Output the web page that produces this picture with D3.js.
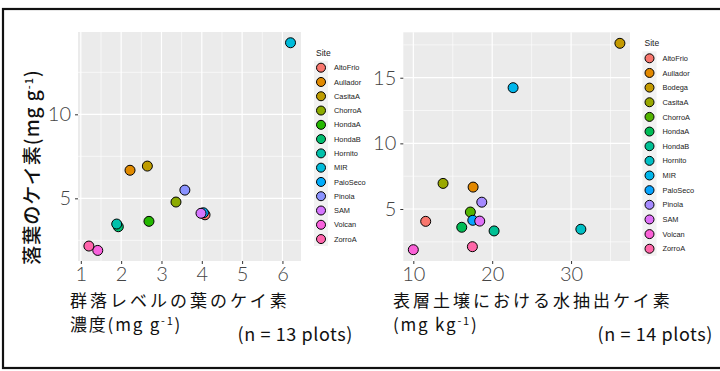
<html>
  <head>
    <meta charset="UTF-8">
    <script src="https://cdn.jsdelivr.net/npm/d3@7"></script>
    <style>
      body { margin: 0; background: #fff; }
      .tick-lab { font-family: Lato, "DejaVu Sans", sans-serif; font-weight: 300; fill: #444; }
      .jp { font-family: "Noto Sans CJK JP", sans-serif; font-weight: 400; fill: #111; }
      .leg { font-family: "Liberation Sans", Arial, sans-serif; fill: #1a1a1a; }
    </style>
  </head>
  <body>
    <svg width="720" height="371"></svg>

    <script type="text/javascript">
      // Left panel: community leaf Si vs litter Si (13 sites)
      var sitesLeft = ["AltoFrio","Aullador","CasitaA","ChorroA","HondaA","HondaB","Hornito","MIR","PaloSeco","Pinola","SAM","Volcan","ZorroA"];
      var leafSi   = [4.08, 2.22, 2.65, 3.36, 2.69, 1.93, 1.89, 6.20, 4.04, 3.58, 3.98, 1.42, 1.20];
      var litterSiLeft = [4.02, 6.67, 6.92, 4.78, 3.63, 3.31, 3.47, 14.26, 4.14, 5.49, 4.11, 1.90, 2.16];
      var colorsLeft = ["#F8766D","#E18A00","#BE9C00","#8CAB00","#24B700","#00BE70","#00C1AB","#00BBDA","#00ACFC","#8B93FF","#D575FE","#F962DD","#FF65AC"];
      var xTicksLeft = [1, 2, 3, 4, 5, 6];
      var yTicksLeft = [5, 10];

      // Right panel: water-extractable soil Si vs litter Si (14 sites)
      var sitesRight = ["AltoFrio","Aullador","Bodega","CasitaA","ChorroA","HondaA","HondaB","Hornito","MIR","PaloSeco","Pinola","SAM","Volcan","ZorroA"];
      var soilSi = [11.57, 17.58, 36.19, 13.77, 17.23, 16.14, 20.24, 31.24, 22.65, 17.54, 18.68, 18.42, 10.00, 17.49];
      var litterSiRight = [4.06, 6.67, 17.62, 6.95, 4.77, 3.61, 3.33, 3.46, 14.24, 4.14, 5.52, 4.08, 1.90, 2.13];
      var colorsRight = ["#F8766D","#E38900","#C49A00","#99A800","#53B400","#00BC56","#00C094","#00BFC4","#00B6EB","#06A4FF","#A58AFF","#DF70F8","#FB61D7","#FF66A8"];
      var xTicksRight = [10, 20, 30];
      var yTicksRight = [5, 10, 15];

      var svg = d3.select('svg');

      // outer frame
      svg.append('rect')
        .attr('x', 3).attr('y', 9).attr('width', 730).attr('height', 359)
        .attr('fill', 'none').attr('stroke', '#111').attr('stroke-width', 2.2);

      function panel(opt) {
        var x = d3.scaleLinear().domain(opt.xDomain).range([opt.left, opt.right]);
        var y = d3.scaleLinear().domain(opt.yDomain).range([opt.bottom, opt.top]);
        var g = svg.append('g');

        g.append('rect')
          .attr('x', opt.left).attr('y', opt.top)
          .attr('width', opt.right - opt.left).attr('height', opt.bottom - opt.top)
          .attr('fill', '#EBEBEB');

        // minor grid
        g.selectAll('.vminor').data(opt.xMinor).enter().append('line')
          .attr('x1', x).attr('x2', x).attr('y1', opt.top).attr('y2', opt.bottom)
          .attr('stroke', '#fff').attr('stroke-width', 0.6);
        g.selectAll('.hminor').data(opt.yMinor).enter().append('line')
          .attr('y1', y).attr('y2', y).attr('x1', opt.left).attr('x2', opt.right)
          .attr('stroke', '#fff').attr('stroke-width', 0.6);
        // major grid
        g.selectAll('.vmajor').data(opt.xTicks).enter().append('line')
          .attr('x1', x).attr('x2', x).attr('y1', opt.top).attr('y2', opt.bottom)
          .attr('stroke', '#fff').attr('stroke-width', 1.2);
        g.selectAll('.hmajor').data(opt.yTicks).enter().append('line')
          .attr('y1', y).attr('y2', y).attr('x1', opt.left).attr('x2', opt.right)
          .attr('stroke', '#fff').attr('stroke-width', 1.2);

        // axes
        var xa = g.append('g').attr('transform', 'translate(0,' + opt.bottom + ')')
          .call(d3.axisBottom(x).tickValues(opt.xTicks).tickSize(3).tickPadding(3).tickFormat(d3.format('d')));
        var ya = g.append('g').attr('transform', 'translate(' + opt.left + ',0)')
          .call(d3.axisLeft(y).tickValues(opt.yTicks).tickSize(3).tickPadding(4).tickFormat(d3.format('d')));
        [xa, ya].forEach(function(a) {
          a.select('.domain').remove();
          a.selectAll('.tick line').attr('stroke', '#333');
          a.selectAll('.tick text').attr('class', 'tick-lab').attr('fill', null)
            .style('font-size', '20px');
        });

        // points
        var idx = d3.range(opt.sites.length);
        g.selectAll('.pt').data(idx).enter().append('circle')
          .attr('cx', function(i) { return x(opt.xs[i]); })
          .attr('cy', function(i) { return y(opt.ys[i]); })
          .attr('r', 5)
          .attr('fill', function(i) { return opt.colors[i]; })
          .attr('stroke', '#000').attr('stroke-width', 1);

        // legend
        var lg = svg.append('g');
        lg.append('text').attr('class', 'leg')
          .attr('x', opt.legX - 5).attr('y', opt.legY - 12)
          .style('font-size', '8.5px').text('Site');
        lg.append('rect')
          .attr('x', opt.legX - 7).attr('y', opt.legY - 7)
          .attr('width', 14).attr('height', opt.legStep * (opt.sites.length - 1) + 14)
          .attr('fill', '#F2F2F2');
        lg.selectAll('.lk').data(idx).enter().append('circle')
          .attr('cx', opt.legX)
          .attr('cy', function(i) { return opt.legY + i * opt.legStep; })
          .attr('r', 4.5)
          .attr('fill', function(i) { return opt.colors[i]; })
          .attr('stroke', '#000').attr('stroke-width', 1);
        lg.selectAll('.lt').data(idx).enter().append('text')
          .attr('class', 'leg')
          .attr('x', opt.legX + 13)
          .attr('y', function(i) { return opt.legY + i * opt.legStep + 2.6; })
          .style('font-size', '7.4px')
          .text(function(i) { return opt.sites[i]; });
      }

      function minor(ticks, step, lo, hi) {
        var out = [];
        ticks.concat([ticks[0] - step]).forEach(function(t) {
          var m = t + step / 2;
          if (m > lo && m < hi) out.push(m);
        });
        return out;
      }

      panel({
        left: 78, right: 301, top: 32, bottom: 261,
        xDomain: [0.93, 6.46], yDomain: [1.27, 14.9],
        xTicks: xTicksLeft, yTicks: yTicksLeft,
        xMinor: minor(xTicksLeft, 1, 0.93, 6.46), yMinor: minor(yTicksLeft, 5, 1.27, 14.9),
        sites: sitesLeft, xs: leafSi, ys: litterSiLeft, colors: colorsLeft,
        legX: 321, legY: 67.7, legStep: 14.28
      });

      panel({
        left: 403.3, right: 630, top: 32.3, bottom: 261,
        xDomain: [8.73, 37.47], yDomain: [1.04, 18.46],
        xTicks: xTicksRight, yTicks: yTicksRight,
        xMinor: minor(xTicksRight, 10, 8.73, 37.47), yMinor: minor(yTicksRight, 5, 1.04, 18.46),
        sites: sitesRight, xs: soilSi, ys: litterSiRight, colors: colorsRight,
        legX: 649.5, legY: 58.3, legStep: 14.65
      });

      // titles
      function sup(t, base, s) {
        t.append('tspan').text(base);
        t.append('tspan').attr('dy', -6).style('font-size', '11px').text(s);
        t.append('tspan').attr('dy', 6).text(')');
      }

      var yt = svg.append('text').attr('class', 'jp')
        .attr('transform', 'translate(39,167) rotate(-90)')
        .attr('text-anchor', 'middle').style('font-weight', 500)
        .style('font-size', '19px').style('letter-spacing', '1px');
      sup(yt, '落葉のケイ素(mg g', '-1');

      svg.append('text').attr('class', 'jp').attr('x', 70).attr('y', 307)
        .style('font-size', '17px').style('letter-spacing', '3px')
        .text('群落レベルの葉のケイ素');
      sup(svg.append('text').attr('class', 'jp').attr('x', 70).attr('y', 331)
        .style('font-size', '17px').style('letter-spacing', '1.8px'), '濃度(mg g', '-1');
      svg.append('text').attr('class', 'jp').attr('x', 353).attr('y', 341)
        .attr('text-anchor', 'end').style('font-size', '18px').style('letter-spacing', '0.6px')
        .text('(n = 13 plots)');

      svg.append('text').attr('class', 'jp').attr('x', 393).attr('y', 307)
        .style('font-size', '17px').style('letter-spacing', '3px')
        .text('表層土壌における水抽出ケイ素');
      sup(svg.append('text').attr('class', 'jp').attr('x', 393).attr('y', 331)
        .style('font-size', '17px').style('letter-spacing', '1.8px'), '(mg kg', '-1');
      svg.append('text').attr('class', 'jp').attr('x', 713).attr('y', 341)
        .attr('text-anchor', 'end').style('font-size', '18px').style('letter-spacing', '0.6px')
        .text('(n = 14 plots)');
    </script>
  </body>
</html>
